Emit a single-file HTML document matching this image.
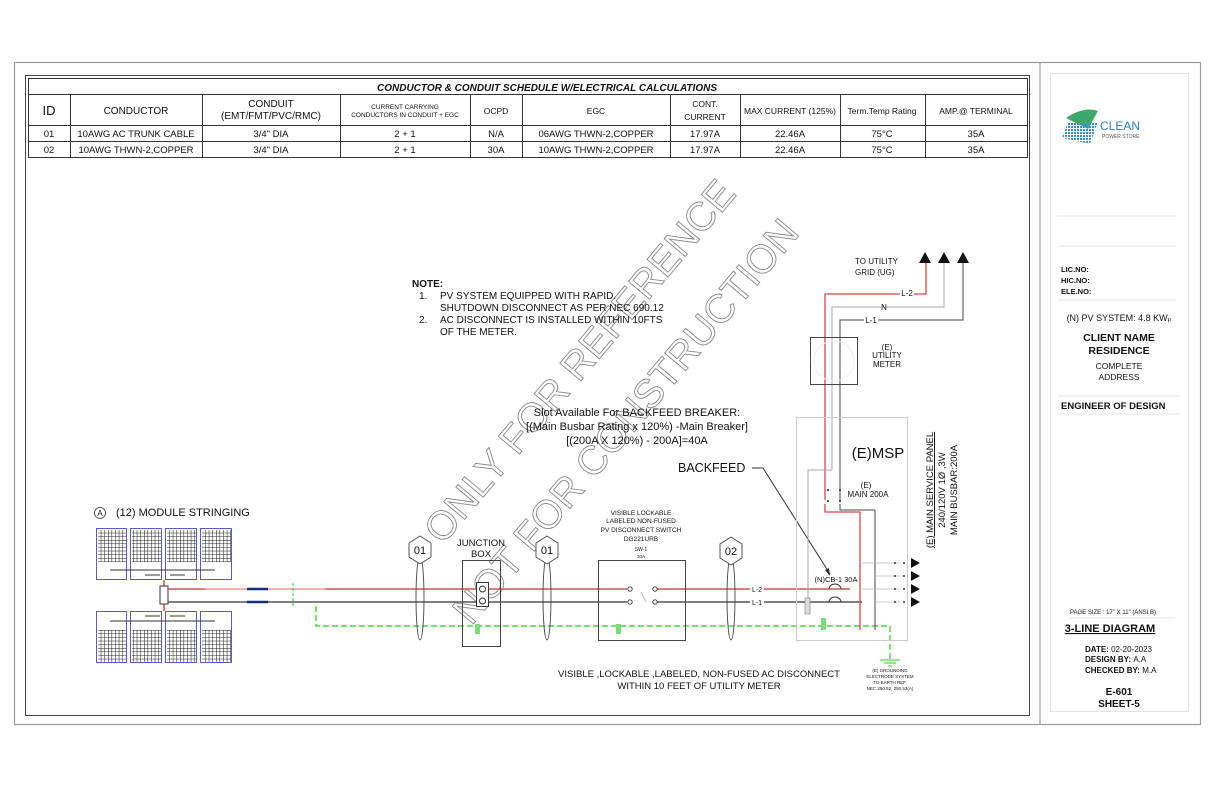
<!DOCTYPE html>
<html><head><meta charset="utf-8"><style>
html,body{margin:0;padding:0;background:#fff}
svg{display:block}
text{font-family:"Liberation Sans",Arial,sans-serif;fill:#111}
</style></head><body>
<svg width="1214" height="786" viewBox="0 0 1214 786" xmlns="http://www.w3.org/2000/svg">
<defs>
<pattern id="grid" width="3.6" height="3.6" patternUnits="userSpaceOnUse">
<path d="M0 0H3.6M0 0V3.6" stroke="#111" stroke-width="1" fill="none"/>
</pattern>
<pattern id="dots" width="3" height="3" patternUnits="userSpaceOnUse">
<rect width="2" height="2" fill="#3a8fd0"/>
</pattern>
</defs>
<rect x="0" y="0" width="1214" height="786" fill="#fff"/>
<rect x="14.5" y="62.5" width="1186" height="662" fill="none" stroke="#999" stroke-width="1.2"/>
<line x1="1040" y1="62" x2="1040" y2="724" stroke="#999" stroke-width="1.2"/>
<rect x="25.5" y="75.5" width="1004" height="640" fill="none" stroke="#444" stroke-width="1"/>
<rect x="1050.5" y="73.5" width="138" height="638" fill="none" stroke="#e3e3e3" stroke-width="1"/>

<g stroke="#333" stroke-width="1" fill="none">
<rect x="28.5" y="78.5" width="999" height="79"/>
<line x1="28" y1="94.5" x2="1028" y2="94.5"/>
<line x1="28" y1="125.5" x2="1028" y2="125.5"/>
<line x1="28" y1="141.5" x2="1028" y2="141.5"/>
<line x1="70.5" y1="94" x2="70.5" y2="158"/>
<line x1="202.5" y1="94" x2="202.5" y2="158"/>
<line x1="340.5" y1="94" x2="340.5" y2="158"/>
<line x1="470.5" y1="94" x2="470.5" y2="158"/>
<line x1="522.5" y1="94" x2="522.5" y2="158"/>
<line x1="670.5" y1="94" x2="670.5" y2="158"/>
<line x1="740.5" y1="94" x2="740.5" y2="158"/>
<line x1="840.5" y1="94" x2="840.5" y2="158"/>
<line x1="925.5" y1="94" x2="925.5" y2="158"/>
</g>
<g text-anchor="middle">
<text x="547" y="91" font-size="10" font-weight="bold" font-style="italic">CONDUCTOR &amp; CONDUIT SCHEDULE W/ELECTRICAL CALCULATIONS</text>
<text x="49" y="115" font-size="13">ID</text>
<text x="136" y="114" font-size="10">CONDUCTOR</text>
<text x="271" y="107" font-size="10">CONDUIT</text>
<text x="271" y="119" font-size="10">(EMT/FMT/PVC/RMC)</text>
<text x="405" y="109" font-size="6.5">CURRENT CARRYING</text>
<text x="405" y="117" font-size="6.5">CONDUCTORS IN CONDUIT + EGC</text>
<text x="496" y="114" font-size="8.5">OCPD</text>
<text x="596" y="114" font-size="8.5">EGC</text>
<text x="705" y="107" font-size="8.5">CONT.</text>
<text x="705" y="120" font-size="8.5">CURRENT</text>
<text x="790" y="114" font-size="8.5">MAX CURRENT (125%)</text>
<text x="882" y="114" font-size="8.5">Term.Temp Rating</text>
<text x="976" y="114" font-size="8.5">AMP.@ TERMINAL</text>
<g font-size="9.5">
<text x="49" y="137">01</text><text x="136" y="137">10AWG AC TRUNK CABLE</text><text x="271" y="137">3/4" DIA</text><text x="405" y="137">2 + 1</text><text x="496" y="137">N/A</text><text x="596" y="137">06AWG THWN-2,COPPER</text><text x="705" y="137">17.97A</text><text x="790" y="137">22.46A</text><text x="882" y="137">75°C</text><text x="976" y="137">35A</text>
<text x="49" y="153">02</text><text x="136" y="153">10AWG THWN-2,COPPER</text><text x="271" y="153">3/4" DIA</text><text x="405" y="153">2 + 1</text><text x="496" y="153">30A</text><text x="596" y="153">10AWG THWN-2,COPPER</text><text x="705" y="153">17.97A</text><text x="790" y="153">22.46A</text><text x="882" y="153">75°C</text><text x="976" y="153">35A</text>
</g>
</g>

<g font-size="40" text-anchor="middle">
<text x="590" y="370" transform="rotate(-50 590 370)" style="fill:#fff;stroke:#888;stroke-width:0.9">ONLY FOR REFERENCE</text>
<text x="636" y="430" transform="rotate(-50 636 430)" style="fill:#fff;stroke:#888;stroke-width:0.9">NOT FOR CONSTRUCTION</text>
</g>

<g font-size="10">
<text x="412" y="287" font-weight="bold">NOTE:</text>
<text x="419" y="299">1.</text><text x="440" y="299">PV SYSTEM EQUIPPED WITH RAPID.</text>
<text x="440" y="311">SHUTDOWN DISCONNECT AS PER NEC 690.12</text>
<text x="419" y="323">2.</text><text x="440" y="323">AC DISCONNECT IS INSTALLED WITHIN 10FTS</text>
<text x="440" y="335">OF THE METER.</text>
</g>
<g font-size="11" text-anchor="middle">
<text x="637" y="416">Slot Available For BACKFEED BREAKER:</text>
<text x="637" y="430">[(Main Busbar Rating x 120%) -Main Breaker]</text>
<text x="637" y="444">[(200A X 120%) - 200A]=40A</text>
</g>
<text x="678" y="472" font-size="12.5">BACKFEED</text>
<path d="M752 468H763L830 574" fill="none" stroke="#333" stroke-width="1"/>
<path d="M830 576l-5 -6l4 -2z" fill="#333"/>

<circle cx="100" cy="513" r="5.5" fill="none" stroke="#333" stroke-width="0.8"/>
<text x="100" y="516" font-size="8" text-anchor="middle">A</text>
<text x="116" y="516" font-size="11">(12) MODULE STRINGING</text>
<g fill="url(#grid)">
<rect x="98" y="530" width="28" height="32"/><rect x="132" y="530" width="29" height="32"/><rect x="167" y="530" width="29" height="32"/><rect x="202" y="530" width="29" height="32"/>
<rect x="98" y="630" width="28" height="32"/><rect x="132" y="630" width="29" height="32"/><rect x="167" y="630" width="29" height="32"/><rect x="202" y="630" width="29" height="32"/>
</g>
<g stroke="#5a5ac8" stroke-width="1" fill="none">
<rect x="96.5" y="528.5" width="30" height="51"/><rect x="130.5" y="528.5" width="31" height="51"/><rect x="165.5" y="528.5" width="31" height="51"/><rect x="200.5" y="528.5" width="31" height="51"/>
<rect x="96.5" y="611.5" width="30" height="51"/><rect x="130.5" y="611.5" width="31" height="51"/><rect x="165.5" y="611.5" width="31" height="51"/><rect x="200.5" y="611.5" width="31" height="51"/>
</g>
<g stroke="#333" stroke-width="1">
<line x1="110" y1="570" x2="215" y2="570"/><line x1="145" y1="575" x2="160" y2="575"/><line x1="170" y1="575" x2="185" y2="575"/>
<line x1="110" y1="621" x2="215" y2="621"/><line x1="145" y1="616" x2="160" y2="616"/><line x1="170" y1="616" x2="185" y2="616"/>
</g>
<line x1="164" y1="580" x2="164" y2="611" stroke="#d44" stroke-width="1.5"/>
<rect x="160" y="586" width="8" height="18" fill="#fff" stroke="#333"/>

<line x1="168" y1="589" x2="850" y2="589" stroke="#c55" stroke-width="1.5"/>
<line x1="205" y1="589" x2="325" y2="589" stroke="#f3b0b0" stroke-width="2"/>
<line x1="168" y1="602" x2="862" y2="602" stroke="#555" stroke-width="1.5"/>
<line x1="247" y1="589" x2="268" y2="589" stroke="#1a2f7a" stroke-width="2.5"/>
<line x1="247" y1="602" x2="268" y2="602" stroke="#1a2f7a" stroke-width="2.5"/>
<line x1="293" y1="583" x2="293" y2="606" stroke="#2c2" stroke-width="1" stroke-dasharray="3,2"/>
<path d="M316 606V626H890V660" fill="none" stroke="#2c2" stroke-width="1.2" stroke-dasharray="6,3"/>
<path d="M880 660h20M884 663h12M888 666h4" stroke="#2c2" stroke-width="1"/>

<g fill="none" stroke="#444" stroke-width="0.9">
<ellipse cx="420" cy="598" rx="4" ry="42"/>
<ellipse cx="547" cy="598" rx="4" ry="42"/>
<ellipse cx="731" cy="598" rx="4" ry="42"/>
<polygon points="420,536 431,543 431,557 420,564 409,557 409,543" fill="#fff"/>
<polygon points="547,536 558,543 558,557 547,564 536,557 536,543" fill="#fff"/>
<polygon points="731,537 742,544 742,558 731,565 720,558 720,544" fill="#fff"/>
</g>
<g font-size="11" text-anchor="middle">
<text x="420" y="554">01</text><text x="547" y="554">01</text><text x="731" y="555">02</text>
</g>

<text x="481" y="546" font-size="9.5" text-anchor="middle">JUNCTION</text>
<text x="481" y="557" font-size="9.5" text-anchor="middle">BOX</text>
<rect x="462.5" y="560.5" width="38" height="86" fill="none" stroke="#444"/>
<rect x="476.5" y="582.5" width="12" height="24" fill="#fff" stroke="#333"/>
<circle cx="482.5" cy="589" r="3" fill="none" stroke="#333"/><circle cx="482.5" cy="601" r="3" fill="none" stroke="#333"/>
<rect x="475" y="624" width="5" height="10" fill="#7d7"/>
<rect x="616" y="624" width="5" height="10" fill="#7d7"/>

<g font-size="6.5" text-anchor="middle">
<text x="641" y="515">VISIBLE LOCKABLE</text>
<text x="641" y="523">LABELED NON-FUSED</text>
<text x="641" y="532">PV DISCONNECT SWITCH</text>
<text x="641" y="541">DG221URB</text>
<text x="641" y="551" font-size="5">SW-1</text>
<text x="641" y="558" font-size="4.5">30A</text>
</g>
<rect x="598.5" y="560.5" width="87" height="80" fill="none" stroke="#444"/>
<rect x="610" y="582" width="58" height="26" fill="#fff"/>
<line x1="610" y1="589" x2="627" y2="589" stroke="#c55" stroke-width="1.5"/>
<line x1="610" y1="602" x2="627" y2="602" stroke="#555" stroke-width="1.5"/>
<line x1="657" y1="589" x2="668" y2="589" stroke="#c55" stroke-width="1.5"/>
<line x1="657" y1="602" x2="668" y2="602" stroke="#555" stroke-width="1.5"/>
<g fill="#fff" stroke="#333" stroke-width="0.9">
<circle cx="630" cy="589" r="2.2"/><circle cx="630" cy="602" r="2.2"/><circle cx="655" cy="589" r="2.2"/><circle cx="655" cy="602" r="2.2"/>
</g>
<line x1="641" y1="592" x2="646" y2="602" stroke="#bbb"/>
<rect x="750" y="583" width="14" height="10" fill="#fff"/><text x="757" y="592" font-size="7" text-anchor="middle">L-2</text>
<rect x="750" y="597" width="14" height="10" fill="#fff"/><text x="757" y="605" font-size="7" text-anchor="middle">L-1</text>

<g font-size="9.5" text-anchor="middle">
<text x="699" y="677">VISIBLE ,LOCKABLE ,LABELED, NON-FUSED AC DISCONNECT</text>
<text x="699" y="689">WITHIN 10 FEET OF UTILITY METER</text>
</g>

<text x="855" y="264" font-size="8">TO UTILITY</text>
<text x="855" y="275" font-size="8">GRID (UG)</text>
<path d="M919 263l6-11l6 11zM938 263l6-11l6 11zM957 263l6-11l6 11z" fill="#111"/>
<path d="M825 500V294H926V263" fill="none" stroke="#d44" stroke-width="1.3"/>
<path d="M832 470V307H944V263" fill="none" stroke="#aaa" stroke-width="1"/>
<path d="M840 500V320H963V263" fill="none" stroke="#444" stroke-width="1"/>
<rect x="900" y="289" width="14" height="9" fill="#fff"/><text x="907" y="296" font-size="8" text-anchor="middle">L-2</text>
<text x="884" y="310" font-size="8" text-anchor="middle">N</text>
<rect x="864" y="315" width="14" height="9" fill="#fff"/><text x="871" y="323" font-size="8" text-anchor="middle">L-1</text>
<rect x="810.5" y="337.5" width="47" height="47" fill="none" stroke="#444"/>
<circle cx="834" cy="361" r="20" fill="none" stroke="#eee"/>
<g font-size="8" text-anchor="middle"><text x="887" y="350">(E)</text><text x="887" y="358">UTILITY</text><text x="887" y="367">METER</text></g>

<rect x="796.5" y="417.5" width="111" height="223" fill="none" stroke="#ccc"/>
<text x="878" y="458" font-size="15" text-anchor="middle">(E)MSP</text>
<path d="M832 470H808V600" fill="none" stroke="#aaa" stroke-width="1"/>
<g font-size="8" text-anchor="middle"><text x="866" y="488">(E)</text><text x="868" y="497">MAIN 200A</text></g>
<path d="M825 504V512H860V630" fill="none" stroke="#d44" stroke-width="1.3"/>
<path d="M840 504V510H875V630" fill="none" stroke="#444" stroke-width="1"/>
<g fill="#111"><circle cx="828" cy="490" r="1"/><circle cx="840" cy="490" r="1"/><circle cx="828" cy="501" r="1"/><circle cx="840" cy="501" r="1"/></g>
<path d="M860 563H900M875 576H900M860 589H900M875 602H900" stroke="#bbb" stroke-width="0.8"/>
<path d="M911 558l9 5l-9 5zM911 571l9 5l-9 5zM911 584l9 5l-9 5zM911 597l9 5l-9 5z" fill="#111"/>
<g fill="#333"><circle cx="895" cy="563" r="1"/><circle cx="904" cy="563" r="1"/><circle cx="895" cy="576" r="1"/><circle cx="904" cy="576" r="1"/><circle cx="895" cy="589" r="1"/><circle cx="904" cy="589" r="1"/><circle cx="895" cy="602" r="1"/><circle cx="904" cy="602" r="1"/></g>
<text x="836" y="582" font-size="7.5" text-anchor="middle">(N)CB-1 30A</text>
<path d="M829 589a6 5 0 0 1 12 0M829 602a6 5 0 0 1 12 0" fill="none" stroke="#333"/>
<rect x="805" y="598" width="5" height="16" fill="#ddd" stroke="#777" stroke-width="0.6"/>
<rect x="821" y="618" width="5" height="12" fill="#7d7"/>
<g font-size="9.5" text-anchor="middle">
<text transform="translate(933 490) rotate(-90)" text-decoration="underline">(E) MAIN SERVICE PANEL</text>
<text transform="translate(945 490) rotate(-90)">240/120V 1Ø ,3W</text>
<text transform="translate(957 490) rotate(-90)">MAIN BUSBAR:200A</text>
</g>
<g font-size="4.5" text-anchor="middle">
<text x="890" y="672">(E) GROUNDING</text><text x="890" y="678">ELECTRODE SYSTEM</text><text x="890" y="684">TO EARTH REF.</text><text x="890" y="690">NEC 250.52, 250.53(A)</text>
</g>

<path d="M1066 118q18 -12 32 -7l-10 18z" fill="#3aa86b"/>
<polygon points="1068,122 1098,122 1090,144 1062,138" fill="url(#dots)"/>
<text x="1100" y="130" font-size="12" style="fill:#2d7cc8">CLEAN</text>
<text x="1102" y="138" font-size="5" style="fill:#555">POWER STORE</text>
<line x1="1058" y1="216" x2="1176" y2="216" stroke="#e6e6e6"/>
<g font-size="7.5" font-weight="bold"><text x="1061" y="272">LIC.NO:</text><text x="1061" y="283">HIC.NO:</text><text x="1061" y="294">ELE.NO:</text></g>
<line x1="1058" y1="246" x2="1176" y2="246" stroke="#e6e6e6"/>
<line x1="1058" y1="300" x2="1176" y2="300" stroke="#e6e6e6"/>
<text x="1119" y="321" font-size="9" text-anchor="middle">(N) PV SYSTEM: 4.8 KWₚ</text>
<g text-anchor="middle">
<text x="1119" y="341" font-size="10.5" font-weight="bold">CLIENT NAME</text>
<text x="1119" y="354" font-size="10.5" font-weight="bold">RESIDENCE</text>
<text x="1119" y="369" font-size="8.5">COMPLETE</text>
<text x="1119" y="380" font-size="8.5">ADDRESS</text>
</g>
<line x1="1058" y1="396" x2="1180" y2="396" stroke="#e6e6e6"/>
<text x="1061" y="409" font-size="9.5" font-weight="bold">ENGINEER OF DESIGN</text>
<line x1="1058" y1="414" x2="1180" y2="414" stroke="#e6e6e6"/>
<text x="1113" y="614" font-size="6" text-anchor="middle">PAGE SIZE : 17" X 11" (ANSI B)</text>
<line x1="1070" y1="618" x2="1175" y2="618" stroke="#e6e6e6"/>
<text x="1110" y="632" font-size="11" font-weight="bold" text-anchor="middle" text-decoration="underline">3-LINE DIAGRAM</text>
<g font-size="8" font-weight="bold">
<text x="1085" y="652">DATE: <tspan font-weight="normal">02-20-2023</tspan></text>
<text x="1085" y="662">DESIGN BY: <tspan font-weight="normal">A.A</tspan></text>
<text x="1085" y="673">CHECKED BY: <tspan font-weight="normal">M.A</tspan></text>
</g>
<text x="1119" y="695" font-size="10" font-weight="bold" text-anchor="middle">E-601</text>
<text x="1119" y="707" font-size="10" font-weight="bold" text-anchor="middle">SHEET-5</text>
</svg>
</body></html>
